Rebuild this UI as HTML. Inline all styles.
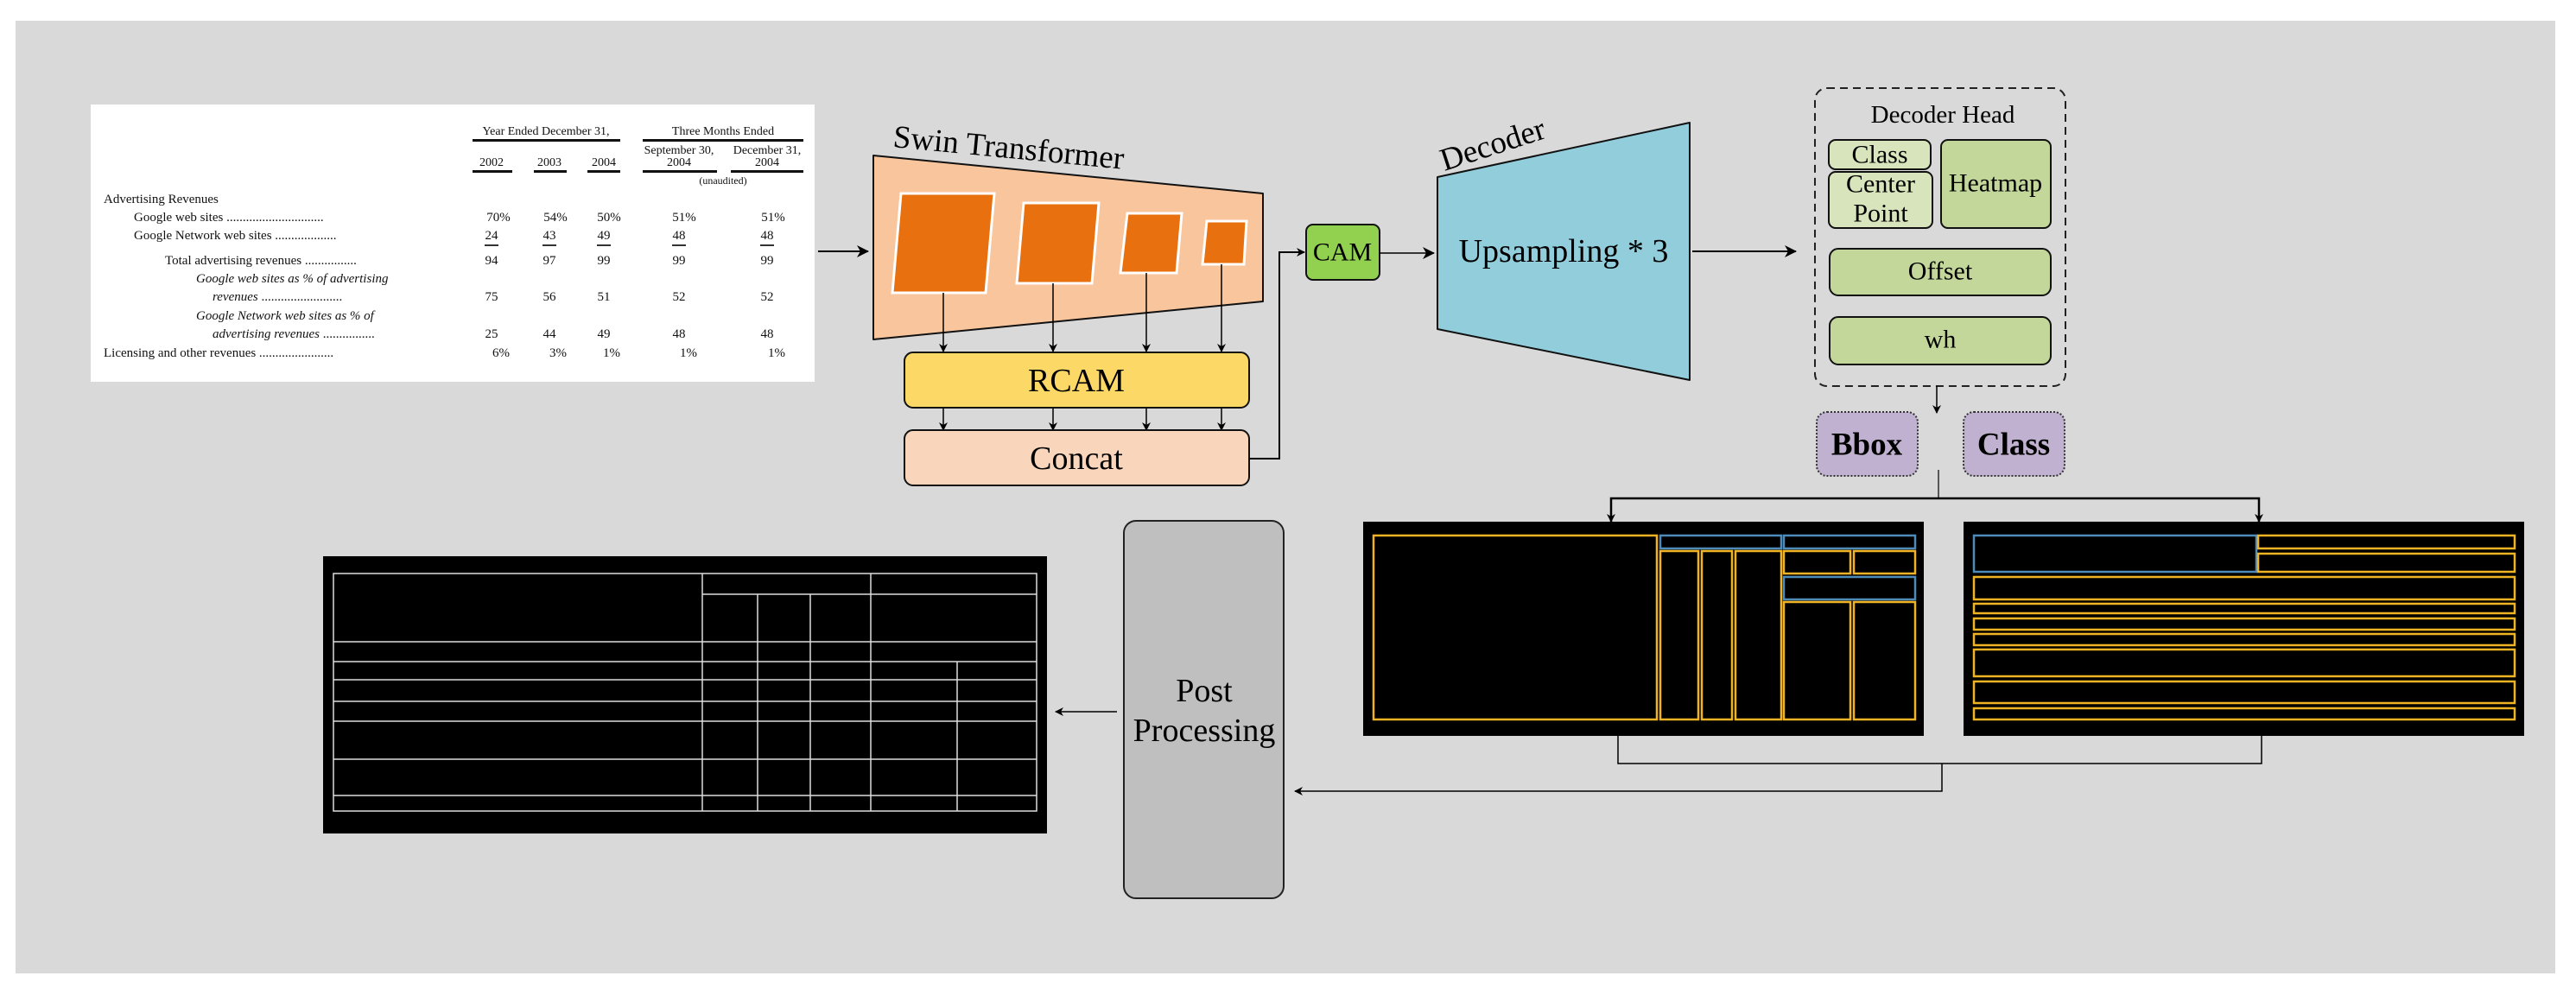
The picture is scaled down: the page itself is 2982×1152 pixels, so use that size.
<!DOCTYPE html>
<html><head><meta charset="utf-8"><style>html,body{margin:0;padding:0;background:#fff}svg{display:block}</style></head>
<body>
<svg width="2982" height="1152" viewBox="0 0 2982 1152" xmlns="http://www.w3.org/2000/svg" font-family="'Liberation Serif', serif">
<defs>
<marker id="ar" markerWidth="10" markerHeight="10" refX="9" refY="5" orient="auto" markerUnits="userSpaceOnUse"><path d="M0,0 L10,5 L0,10 L3,5 z" fill="#000"/></marker>
<marker id="ar2" markerWidth="14" markerHeight="14" refX="13" refY="7" orient="auto" markerUnits="userSpaceOnUse"><path d="M0,0 L14,7 L0,14 L4,7 z" fill="#000"/></marker>
</defs>
<rect x="18" y="24" width="2940" height="1103" fill="#d9d9d9"/>

<!-- table image -->
<rect x="105" y="121" width="838" height="321" fill="#fff"/>
<g font-size="14" fill="#111">
<text x="632" y="156" text-anchor="middle">Year Ended December 31,</text>
<text x="837" y="156" text-anchor="middle">Three Months Ended</text>
<rect x="547" y="161" width="171" height="3" fill="#111"/>
<rect x="744" y="161" width="186" height="3" fill="#111"/>
<text x="786" y="178" text-anchor="middle">September 30,</text>
<text x="888" y="178" text-anchor="middle">December 31,</text>
<text x="569" y="192" text-anchor="middle">2002</text>
<text x="636" y="192" text-anchor="middle">2003</text>
<text x="699" y="192" text-anchor="middle">2004</text>
<text x="786" y="192" text-anchor="middle">2004</text>
<text x="888" y="192" text-anchor="middle">2004</text>
<rect x="547" y="197" width="46" height="3" fill="#111"/>
<rect x="618" y="197" width="38" height="3" fill="#111"/>
<rect x="680" y="197" width="38" height="3" fill="#111"/>
<rect x="744" y="197" width="86" height="3" fill="#111"/>
<rect x="846" y="197" width="84" height="3" fill="#111"/>
<text x="837" y="213" text-anchor="middle" font-size="12">(unaudited)</text>
<text x="120" y="235" font-size="15">Advertising Revenues</text>
<text x="155" y="256" font-size="15">Google web sites ..............................</text>
<text x="155" y="277" font-size="15">Google Network web sites ...................</text>
<text x="191" y="306" font-size="15">Total advertising revenues ................</text>
<text x="227" y="327" font-size="15" font-style="italic">Google web sites as % of advertising</text>
<text x="246" y="348" font-size="15"><tspan font-style="italic">revenues</tspan> .........................</text>
<text x="227" y="370" font-size="15" font-style="italic">Google Network web sites as % of</text>
<text x="246" y="391" font-size="15"><tspan font-style="italic">advertising revenues</tspan> ................</text>
<text x="120" y="413" font-size="15">Licensing and other revenues .......................</text>
<g font-size="15" text-anchor="middle">
<text x="577" y="256">70%</text><text x="643" y="256">54%</text><text x="705" y="256">50%</text><text x="792" y="256">51%</text><text x="895" y="256">51%</text>
<text x="569" y="277">24</text><text x="636" y="277">43</text><text x="699" y="277">49</text><text x="786" y="277">48</text><text x="888" y="277">48</text>
<text x="569" y="306">94</text><text x="636" y="306">97</text><text x="699" y="306">99</text><text x="786" y="306">99</text><text x="888" y="306">99</text>
<text x="569" y="348">75</text><text x="636" y="348">56</text><text x="699" y="348">51</text><text x="786" y="348">52</text><text x="888" y="348">52</text>
<text x="569" y="391">25</text><text x="636" y="391">44</text><text x="699" y="391">49</text><text x="786" y="391">48</text><text x="888" y="391">48</text>
<text x="580" y="413">6%</text><text x="646" y="413">3%</text><text x="708" y="413">1%</text><text x="797" y="413">1%</text><text x="899" y="413">1%</text>
</g>
<g fill="#333"><rect x="561" y="283" width="16" height="2"/><rect x="628" y="283" width="16" height="2"/><rect x="691" y="283" width="16" height="2"/><rect x="778" y="283" width="16" height="2"/><rect x="880" y="283" width="16" height="2"/></g>
</g>

<!-- input arrow -->
<line x1="947" y1="291" x2="1005" y2="291" stroke="#000" stroke-width="2" marker-end="url(#ar2)"/>

<!-- Swin -->
<polygon points="1011,180 1462,224 1462,349 1011,393" fill="#f8c59c" stroke="#111" stroke-width="2" stroke-linejoin="round"/>
<text x="1033" y="170" font-size="37" transform="rotate(5.5 1033 170)">Swin Transformer</text>
<g fill="#e8700f" stroke="#fff" stroke-width="3">
<polygon points="1043,224 1151,224 1141,339 1033,339"/>
<polygon points="1185,235 1272,235 1264,328 1177,328"/>
<polygon points="1305,247 1368,247 1362,316 1297,316"/>
<polygon points="1397,256 1443,256 1440,306 1392,306"/>
</g>
<g stroke="#000" stroke-width="1.5" marker-end="url(#ar)">
<line x1="1092" y1="339" x2="1092" y2="407"/><line x1="1219" y1="328" x2="1219" y2="407"/><line x1="1327" y1="316" x2="1327" y2="407"/><line x1="1414" y1="306" x2="1414" y2="407"/>
<line x1="1092" y1="472" x2="1092" y2="498"/><line x1="1219" y1="472" x2="1219" y2="498"/><line x1="1327" y1="472" x2="1327" y2="498"/><line x1="1414" y1="472" x2="1414" y2="498"/>
</g>
<rect x="1047" y="408" width="399" height="64" rx="10" fill="#fcd866" stroke="#111" stroke-width="2"/>
<text x="1246" y="441" font-size="38" text-anchor="middle" dominant-baseline="central">RCAM</text>
<rect x="1047" y="498" width="399" height="64" rx="10" fill="#f9d6bb" stroke="#111" stroke-width="2"/>
<text x="1246" y="531" font-size="38" text-anchor="middle" dominant-baseline="central">Concat</text>
<polyline points="1446,531 1481,531 1481,292 1510,292" fill="none" stroke="#000" stroke-width="2" marker-end="url(#ar)"/>

<!-- CAM -->
<rect x="1512" y="260" width="85" height="64" rx="8" fill="#92d050" stroke="#111" stroke-width="2"/>
<text x="1554" y="292" font-size="30" text-anchor="middle" dominant-baseline="central">CAM</text>
<line x1="1597" y1="293" x2="1660" y2="293" stroke="#000" stroke-width="1.5" marker-end="url(#ar2)"/>

<!-- Decoder -->
<polygon points="1664,205 1956,142 1956,440 1664,381" fill="#92cddc" stroke="#111" stroke-width="2" stroke-linejoin="round"/>
<text x="1672" y="198" font-size="37" transform="rotate(-18 1672 198)">Decoder</text>
<text x="1810" y="291" font-size="38" text-anchor="middle" dominant-baseline="central">Upsampling * 3</text>
<line x1="1959" y1="291" x2="2079" y2="291" stroke="#000" stroke-width="2" marker-end="url(#ar2)"/>

<!-- Decoder head -->
<rect x="2101" y="102" width="290" height="345" rx="14" fill="none" stroke="#222" stroke-width="2" stroke-dasharray="9,6"/>
<text x="2249" y="133" font-size="29" text-anchor="middle" dominant-baseline="central">Decoder Head</text>
<rect x="2117" y="162" width="118" height="34" rx="8" fill="#d8e4bc" stroke="#111" stroke-width="2"/>
<text x="2176" y="179" font-size="30" text-anchor="middle" dominant-baseline="central">Class</text>
<rect x="2117" y="199" width="120" height="65" rx="8" fill="#d8e4bc" stroke="#111" stroke-width="2"/>
<text x="2177" y="213" font-size="30" text-anchor="middle" dominant-baseline="central">Center</text>
<text x="2177" y="247" font-size="30" text-anchor="middle" dominant-baseline="central">Point</text>
<rect x="2247" y="162" width="127" height="102" rx="8" fill="#c4d79b" stroke="#111" stroke-width="2"/>
<text x="2310" y="212" font-size="30" text-anchor="middle" dominant-baseline="central">Heatmap</text>
<rect x="2118" y="288" width="256" height="54" rx="10" fill="#c4d79b" stroke="#111" stroke-width="2"/>
<text x="2246" y="314" font-size="30" text-anchor="middle" dominant-baseline="central">Offset</text>
<rect x="2118" y="367" width="256" height="55" rx="10" fill="#c4d79b" stroke="#111" stroke-width="2"/>
<text x="2246" y="393" font-size="30" text-anchor="middle" dominant-baseline="central">wh</text>
<line x1="2242" y1="447" x2="2242" y2="478" stroke="#000" stroke-width="1.5" marker-end="url(#ar)"/>
<rect x="2103" y="477" width="117" height="74" rx="12" fill="#bfb1cf" stroke="#333" stroke-width="2" stroke-dasharray="2,2"/>
<text x="2161" y="515" font-size="37" font-weight="bold" text-anchor="middle" dominant-baseline="central">Bbox</text>
<rect x="2273" y="477" width="117" height="74" rx="12" fill="#bfb1cf" stroke="#333" stroke-width="2" stroke-dasharray="2,2"/>
<text x="2331" y="515" font-size="37" font-weight="bold" text-anchor="middle" dominant-baseline="central">Class</text>
<line x1="2244" y1="544" x2="2244" y2="577" stroke="#000" stroke-width="1.2"/>
<polyline points="1865,604 1865,577 2615,577 2615,604" fill="none" stroke="#000" stroke-width="2.5"/>
<line x1="1865" y1="590" x2="1865" y2="604" stroke="#000" stroke-width="1.5" marker-end="url(#ar)"/>
<line x1="2615" y1="590" x2="2615" y2="604" stroke="#000" stroke-width="1.5" marker-end="url(#ar)"/>

<!-- detection images -->
<rect x="1578" y="604" width="649" height="248" fill="#000"/>
<g fill="none" stroke-width="2.5">
<g stroke="#f0b323">
<rect x="1590" y="620" width="328" height="213"/>
<rect x="1922" y="638" width="44" height="195"/><rect x="1970" y="638" width="35" height="195"/><rect x="2009" y="638" width="53" height="195"/>
<rect x="2065" y="638" width="77" height="26"/><rect x="2146" y="638" width="71" height="26"/>
<rect x="2065" y="697" width="77" height="136"/><rect x="2146" y="697" width="71" height="136"/>
</g>
<g stroke="#4f8bb8">
<rect x="1922" y="620" width="140" height="15"/><rect x="2065" y="620" width="152" height="15"/>
<rect x="2065" y="668" width="152" height="26"/>
</g>
</g>
<rect x="2273" y="604" width="649" height="248" fill="#000"/>
<g fill="none" stroke-width="2.5">
<rect x="2285" y="620" width="327" height="42" stroke="#4f8bb8"/>
<g stroke="#f0b323">
<rect x="2614" y="620" width="297" height="15"/><rect x="2614" y="641" width="297" height="21"/>
<rect x="2285" y="668" width="626" height="26"/>
<rect x="2285" y="699" width="626" height="11"/>
<rect x="2285" y="716" width="626" height="13"/>
<rect x="2285" y="734" width="626" height="13"/>
<rect x="2285" y="752" width="626" height="31"/>
<rect x="2285" y="789" width="626" height="25"/>
<rect x="2285" y="820" width="626" height="13"/>
</g>
</g>
<polyline points="1873,852 1873,884 2618,884 2618,852" fill="none" stroke="#000" stroke-width="1.5"/>
<polyline points="2248,884 2248,916 1499,916" fill="none" stroke="#000" stroke-width="1.5" marker-end="url(#ar)"/>

<!-- post processing -->
<rect x="1301" y="603" width="185" height="437" rx="14" fill="#bfbfbf" stroke="#222" stroke-width="2"/>
<text x="1394" y="800" font-size="38" text-anchor="middle" dominant-baseline="central">Post</text>
<text x="1394" y="846" font-size="38" text-anchor="middle" dominant-baseline="central">Processing</text>
<line x1="1293" y1="824" x2="1222" y2="824" stroke="#000" stroke-width="1.5" marker-end="url(#ar)"/>

<!-- output table -->
<rect x="374" y="644" width="838" height="321" fill="#000"/>
<g stroke="#ddd" stroke-width="1.5" fill="none">
<rect x="386" y="664" width="814" height="275"/>
<line x1="813" y1="664" x2="813" y2="939"/><line x1="1008" y1="664" x2="1008" y2="939"/>
<line x1="877" y1="688" x2="877" y2="939"/><line x1="938" y1="688" x2="938" y2="939"/>
<line x1="1108" y1="766" x2="1108" y2="939"/>
<line x1="813" y1="688" x2="1200" y2="688"/>
<line x1="386" y1="743" x2="1200" y2="743"/><line x1="386" y1="766" x2="1200" y2="766"/><line x1="386" y1="787" x2="1200" y2="787"/><line x1="386" y1="812" x2="1200" y2="812"/><line x1="386" y1="835" x2="1200" y2="835"/><line x1="386" y1="879" x2="1200" y2="879"/><line x1="386" y1="921" x2="1200" y2="921"/>
</g>
</svg>
</body></html>
